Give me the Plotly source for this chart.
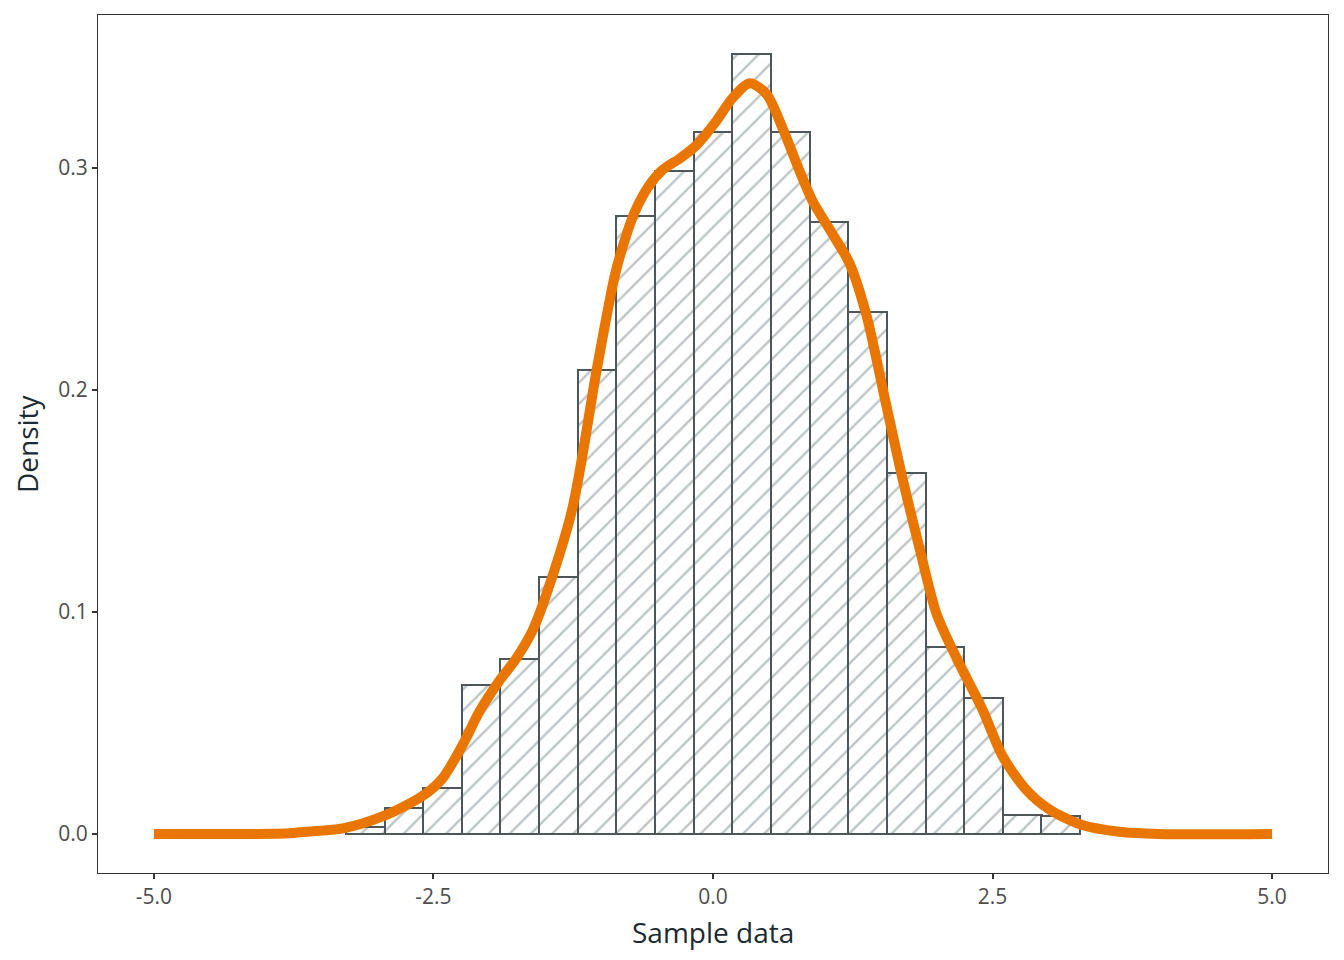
import plotly.graph_objects as go

# Histogram (density) bins: centers and heights
bin_centers = [-3.110, -2.765, -2.419, -2.074, -1.728, -1.382, -1.037, -0.691, -0.346,
               0.0, 0.346, 0.691, 1.037, 1.382, 1.728, 2.074, 2.419, 2.765, 3.110]
bin_density = [0.003, 0.0119, 0.0205, 0.0669, 0.0786, 0.1159, 0.2088, 0.2784, 0.2986,
               0.3161, 0.3511, 0.3161, 0.2753, 0.2348, 0.1626, 0.0840, 0.0611, 0.0085, 0.0080]
bin_width = 0.3456

# Kernel density curve
kde_x = [-5.0, -4.14, -3.78, -3.70, -3.31, -2.95, -2.60, -2.42, -2.24, -2.09, -1.91, -1.76,
         -1.61, -1.51, -1.26, -1.04, -0.88, -0.81, -0.70, -0.57, -0.45, -0.30, -0.15, 0.03,
         0.17, 0.33, 0.48, 0.62, 0.77, 0.89, 1.07, 1.22, 1.37, 1.55, 1.69, 1.85, 2.00, 2.18,
         2.41, 2.59, 2.80, 3.01, 3.30, 3.63, 3.99, 5.0]
kde_y = [0.0, 0.0, 0.0003, 0.0008, 0.0025, 0.008, 0.017, 0.025, 0.040, 0.055, 0.069, 0.079,
         0.092, 0.105, 0.146, 0.209, 0.251, 0.264, 0.280, 0.292, 0.299, 0.304, 0.310, 0.321,
         0.331, 0.338, 0.333, 0.318, 0.299, 0.285, 0.270, 0.257, 0.234, 0.193, 0.161, 0.128,
         0.099, 0.079, 0.056, 0.035, 0.020, 0.011, 0.004, 0.001, 0.0, 0.0]

x_tickvals = [-5.0, -2.5, 0.0, 2.5, 5.0]
x_ticktext = ["-5.0", "-2.5", "0.0", "2.5", "5.0"]
y_tickvals = [0.0, 0.1, 0.2, 0.3]
y_ticktext = ["0.0", "0.1", "0.2", "0.3"]

fig = go.Figure()
fig.add_trace(go.Bar(
    x=bin_centers, y=bin_density, width=bin_width,
    marker=dict(
        color="white",
        line=dict(color="#4f5659", width=2),
        pattern=dict(shape="/", fgcolor="#7d8b90", bgcolor="white", size=15, solidity=0.16),
    ),
    showlegend=False,
))
fig.add_trace(go.Scatter(
    x=kde_x, y=kde_y, mode="lines",
    line=dict(color="#E87600", width=10, shape="spline", smoothing=0.8),
    showlegend=False,
))

axis_common = dict(
    showgrid=False, zeroline=False, showline=True, mirror=True,
    linecolor="#333333", linewidth=1,
    ticks="outside", ticklen=5, tickwidth=2, tickcolor="#333333",
    tickfont=dict(family="Open Sans, sans-serif", size=21, color="#4d4d4d"),
)

title_font = dict(family="Open Sans, sans-serif", size=28, color="#1b2a33")

fig.update_layout(
    width=1336, height=952,
    paper_bgcolor="white", plot_bgcolor="white",
    margin=dict(l=90, r=16, t=7, b=87),
    bargap=0,
    xaxis=dict(range=[-5.5, 5.5], tickvals=x_tickvals, ticktext=x_ticktext, **axis_common),
    yaxis=dict(range=[-0.01756, 0.3687], tickvals=y_tickvals, ticktext=y_ticktext, **axis_common),
    annotations=[
        dict(text="Sample data", xref="paper", yref="paper", x=0.5, y=-0.0685,
             xanchor="center", yanchor="middle", showarrow=False, font=title_font),
        dict(text="Density", xref="paper", yref="paper", x=-0.0577, y=0.5, textangle=-90,
             xanchor="center", yanchor="middle", showarrow=False, font=title_font),
    ],
)

fig.write_html("out.html")
